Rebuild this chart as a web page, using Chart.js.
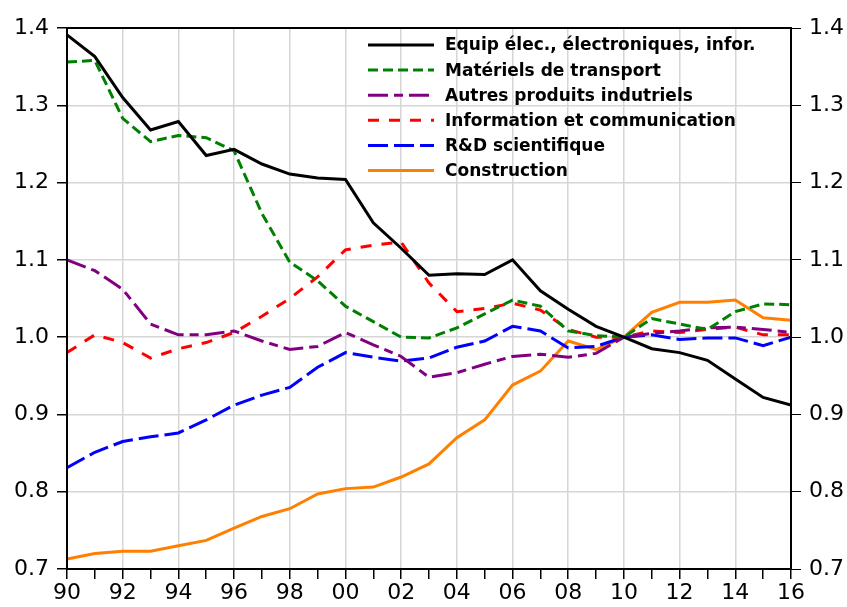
<!DOCTYPE html>
<html>
<head>
<meta charset="utf-8">
<script src="https://cdn.jsdelivr.net/npm/chart.js@4.4.1/dist/chart.umd.min.js"></script>
<style>
  html, body { margin: 0; padding: 0; background: #fff; }
  #wrap { width: 847px; height: 607px; }
</style>
</head>
<body>
<div id="wrap"><canvas id="c"></canvas></div>
<script>
// years 1990 -> 2016
const years = [1990,1991,1992,1993,1994,1995,1996,1997,1998,1999,2000,2001,2002,2003,2004,2005,2006,2007,2008,2009,2010,2011,2012,2013,2014,2015,2016]
const yTicks = [0.7, 0.8, 0.9, 1.0, 1.1, 1.2, 1.3, 1.4]

const equipElec = [1.391,1.363,1.310,1.268,1.279,1.235,1.243,1.224,1.211,1.206,1.204,1.148,1.115,1.080,1.082,1.081,1.100,1.060,1.036,1.014,1.000,0.985,0.980,0.970,0.946,0.922,0.912]
const transport = [1.356,1.358,1.283,1.253,1.261,1.258,1.241,1.160,1.097,1.073,1.040,1.020,1.000,0.999,1.012,1.030,1.048,1.040,1.008,1.002,1.000,1.024,1.017,1.010,1.033,1.043,1.042]
const autresInd = [1.100,1.086,1.062,1.017,1.003,1.003,1.008,0.995,0.984,0.988,1.006,0.990,0.975,0.948,0.954,0.965,0.975,0.978,0.974,0.979,1.000,1.005,1.008,1.012,1.013,1.010,1.006]
const infoComm = [0.980,1.003,0.993,0.973,0.985,0.993,1.006,1.027,1.050,1.078,1.113,1.119,1.123,1.070,1.033,1.037,1.044,1.035,1.010,1.000,1.000,1.008,1.006,1.010,1.013,1.003,1.003]
const rdScient = [0.831,0.851,0.865,0.871,0.876,0.893,0.912,0.925,0.935,0.961,0.980,0.974,0.969,0.973,0.987,0.995,1.014,1.008,0.986,0.988,1.000,1.003,0.997,0.999,0.999,0.989,1.000]
const construction = [0.713,0.720,0.723,0.723,0.730,0.737,0.753,0.768,0.778,0.797,0.804,0.806,0.819,0.836,0.870,0.893,0.938,0.956,0.995,0.984,1.000,1.032,1.045,1.045,1.048,1.025,1.022]

const FONT = '"DejaVu Sans", Arial, sans-serif'

function serie(label, data, color, dash) {
  return {
    label: label,
    data: data.map((v, i) => ({ x: years[i], y: v })),
    borderColor: color,
    backgroundColor: color,
    borderWidth: 3,
    borderDash: dash,
    pointRadius: 0,
    tension: 0,
    fill: false
  }
}

// cadre noir autour de la zone + légende dessinée dans le graphique
const cadreLegende = {
  id: 'cadreLegende',
  afterDraw(chart) {
    const ctx = chart.ctx
    const a = chart.chartArea
    ctx.save()
    ctx.strokeStyle = '#000'
    ctx.lineWidth = 2
    ctx.setLineDash([])
    ctx.strokeRect(a.left, a.top, a.right - a.left, a.bottom - a.top)

    ctx.font = 'bold 17px ' + FONT
    ctx.textBaseline = 'middle'
    ctx.fillStyle = '#000'
    chart.data.datasets.forEach((ds, i) => {
      const y = 45 + i * 25.1
      ctx.strokeStyle = ds.borderColor
      ctx.lineWidth = 3
      ctx.setLineDash(ds.borderDash || [])
      ctx.beginPath()
      ctx.moveTo(368, y)
      ctx.lineTo(434, y)
      ctx.stroke()
      ctx.setLineDash([])
      ctx.fillText(ds.label, 445, y + 1)
    })
    ctx.restore()
  }
}

new Chart(document.getElementById('c'), {
  type: 'line',
  data: {
    datasets: [
      serie('Equip élec., électroniques, infor.', equipElec, '#000000', []),
      serie('Matériels de transport', transport, '#008000', [10, 5]),
      serie('Autres produits indutriels', autresInd, '#800080', [20, 6, 9, 6]),
      serie('Information et communication', infoComm, '#ff0000', [11, 10]),
      serie('R&D scientifique', rdScient, '#0000ff', [20, 6]),
      serie('Construction', construction, '#ff8000', [])
    ]
  },
  options: {
    responsive: true,
    maintainAspectRatio: false,
    animation: false,
    layout: { padding: { top: 28, left: 0, right: 0, bottom: 0 } },
    plugins: { legend: { display: false }, tooltip: { enabled: false } },
    scales: {
      x: {
        type: 'linear',
        min: years[0],
        max: years[years.length - 1],
        afterBuildTicks(scale) {
          scale.ticks = years.map(v => ({ value: v }))
        },
        afterFit(scale) { scale.height = 38 },
        border: { color: '#000', width: 2 },
        grid: {
          color: c => (c.tick && c.tick.value % 2 === 0) ? '#d6d6d6' : 'rgba(0,0,0,0)',
          tickColor: '#000',
          tickLength: 10,
          lineWidth: 1.5
        },
        ticks: {
          autoSkip: false,
          maxRotation: 0,
          padding: 1,
          color: '#000',
          font: { family: FONT, size: 22 },
          callback: v => v % 2 === 0 ? String(v).slice(2) : ''
        }
      },
      y: {
        position: 'left',
        min: 0.7,
        max: 1.4,
        afterBuildTicks(scale) {
          scale.ticks = yTicks.map(v => ({ value: v }))
        },
        afterFit(scale) { scale.width = 67 },
        border: { color: '#000', width: 2 },
        grid: { color: '#d6d6d6', tickColor: '#000', tickLength: 10, lineWidth: 1.5 },
        ticks: {
          padding: 8,
          color: '#000',
          font: { family: FONT, size: 22 },
          callback: v => Number(v).toFixed(1)
        }
      },
      y2: {
        position: 'right',
        min: 0.7,
        max: 1.4,
        afterBuildTicks(scale) {
          scale.ticks = yTicks.map(v => ({ value: v }))
        },
        afterFit(scale) { scale.width = 56 },
        border: { color: '#000', width: 2 },
        grid: { drawOnChartArea: false, tickColor: '#000', tickLength: 10 },
        ticks: {
          padding: 8,
          color: '#000',
          font: { family: FONT, size: 22 },
          callback: v => Number(v).toFixed(1)
        }
      }
    }
  },
  plugins: [cadreLegende]
})
</script>
</body>
</html>
